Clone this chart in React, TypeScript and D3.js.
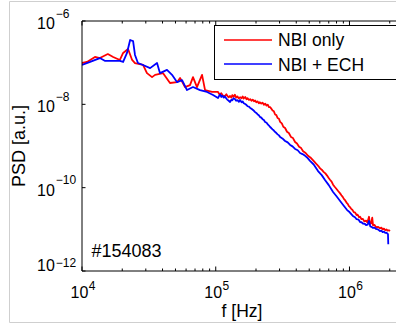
import React from 'react';
import * as d3 from 'd3';

// NBI only (red)
const redF = [1.00e4, 1.09e4, 1.25e4, 1.36e4, 1.56e4, 1.71e4, 1.92e4, 2.03e4, 2.21e4, 2.37e4, 2.49e4, 2.86e4, 3.06e4, 3.34e4, 3.52e4, 4.04e4, 4.55e4, 5.14e4, 5.41e4, 5.89e4, 6.42e4, 6.76e4, 7.24e4, 7.90e4, 8.32e4, 9.38e4, 1.04e5, 1.07e5, 1.10e5, 1.13e5, 1.17e5, 1.20e5, 1.22e5, 1.25e5, 1.28e5, 1.31e5, 1.33e5, 1.36e5, 1.39e5, 1.42e5, 1.45e5, 1.49e5, 1.52e5, 1.56e5, 1.59e5, 1.62e5, 1.66e5, 1.70e5, 1.73e5, 1.77e5, 1.81e5, 1.85e5, 1.89e5, 1.93e5, 1.97e5, 2.01e5, 2.05e5, 2.10e5, 2.14e5, 2.19e5, 2.24e5, 2.29e5, 2.34e5, 2.40e5, 2.45e5, 2.50e5, 2.55e5, 2.60e5, 2.66e5, 2.72e5, 2.78e5, 2.84e5, 2.90e5, 2.97e5, 3.03e5, 3.12e5, 3.20e5, 3.30e5, 3.41e5, 3.52e5, 3.65e5, 3.78e5, 3.92e5, 4.05e5, 4.20e5, 4.35e5, 4.50e5, 4.70e5, 4.90e5, 5.10e5, 5.35e5, 5.50e5, 5.70e5, 5.85e5, 6.03e5, 6.20e5, 6.40e5, 6.60e5, 6.80e5, 6.95e5, 7.15e5, 7.35e5, 7.54e5, 7.75e5, 8.00e5, 8.25e5, 8.51e5, 8.70e5, 8.90e5, 9.10e5, 9.27e5, 9.50e5, 9.70e5, 9.90e5, 1.01e6, 1.03e6, 1.05e6, 1.08e6, 1.10e6, 1.13e6, 1.15e6, 1.18e6, 1.20e6, 1.23e6, 1.26e6, 1.29e6, 1.33e6, 1.36e6, 1.40e6, 1.42e6, 1.45e6, 1.48e6, 1.50e6, 1.54e6, 1.58e6, 1.63e6, 1.69e6, 1.73e6, 1.77e6, 1.81e6, 1.85e6, 1.89e6, 1.93e6, 1.97e6, 2.01e6];
const redPSD = [9.8e-8, 1.04e-7, 1.37e-7, 1.29e-7, 1.61e-7, 1.37e-7, 1.16e-7, 1.71e-7, 2.13e-7, 1.16e-7, 9.8e-8, 8.8e-8, 5.6e-8, 4.5e-8, 5.1e-8, 5.6e-8, 3.25e-8, 3.4e-8, 4.3e-8, 2.6e-8, 2.9e-8, 4.5e-8, 2.6e-8, 5.1e-8, 2.2e-8, 1.98e-8, 1.98e-8, 1.70e-8, 1.85e-8, 1.62e-8, 1.58e-8, 1.75e-8, 1.60e-8, 1.48e-8, 1.58e-8, 1.45e-8, 1.66e-8, 1.52e-8, 1.70e-8, 1.45e-8, 1.55e-8, 1.38e-8, 1.48e-8, 1.40e-8, 1.55e-8, 1.38e-8, 1.50e-8, 1.32e-8, 1.40e-8, 1.28e-8, 1.33e-8, 1.22e-8, 1.30e-8, 1.18e-8, 1.24e-8, 1.12e-8, 1.18e-8, 1.06e-8, 1.12e-8, 1.04e-8, 1.10e-8, 9.8e-9, 1.04e-8, 9.3e-9, 9.8e-9, 8.6e-9, 8.6e-9, 7.9e-9, 7.1e-9, 6.8e-9, 5.7e-9, 5.5e-9, 4.7e-9, 4.5e-9, 3.8e-9, 3.5e-9, 2.9e-9, 2.7e-9, 2.2e-9, 2.05e-9, 1.65e-9, 1.55e-9, 1.25e-9, 1.15e-9, 9.6e-10, 8.9e-10, 7.5e-10, 6.8e-10, 5.8e-10, 5.3e-10, 4.5e-10, 4.1e-10, 3.6e-10, 3.3e-10, 2.9e-10, 2.7e-10, 2.4e-10, 2.2e-10, 1.95e-10, 1.75e-10, 1.55e-10, 1.40e-10, 1.18e-10, 1.05e-10, 9.3e-11, 8.2e-11, 7.3e-11, 6.6e-11, 6.0e-11, 5.3e-11, 5.0e-11, 4.4e-11, 4.1e-11, 3.6e-11, 3.4e-11, 3.1e-11, 2.95e-11, 2.55e-11, 2.55e-11, 2.2e-11, 2.25e-11, 1.95e-11, 2.0e-11, 1.75e-11, 1.78e-11, 1.55e-11, 1.62e-11, 1.45e-11, 2.0e-11, 1.35e-11, 1.38e-11, 1.9e-11, 1.25e-11, 1.28e-11, 1.12e-11, 1.15e-11, 1.06e-11, 1.1e-11, 1.0e-11, 1.04e-11, 9.6e-12, 9.9e-12, 9.3e-12, 9.5e-12, 9.1e-12];

// NBI + ECH (blue)
const blueF = [1.00e4, 1.15e4, 1.36e4, 1.49e4, 1.92e4, 2.03e4, 2.17e4, 2.29e4, 2.41e4, 2.49e4, 2.62e4, 2.86e4, 3.23e4, 3.64e4, 3.83e4, 4.32e4, 4.71e4, 5.14e4, 5.60e4, 6.10e4, 6.76e4, 7.63e4, 8.61e4, 9.55e4, 1.04e5, 1.06e5, 1.08e5, 1.10e5, 1.12e5, 1.15e5, 1.17e5, 1.20e5, 1.22e5, 1.25e5, 1.28e5, 1.31e5, 1.33e5, 1.36e5, 1.39e5, 1.42e5, 1.45e5, 1.49e5, 1.52e5, 1.56e5, 1.59e5, 1.62e5, 1.66e5, 1.70e5, 1.73e5, 1.77e5, 1.81e5, 1.85e5, 1.89e5, 1.93e5, 1.97e5, 2.01e5, 2.05e5, 2.10e5, 2.14e5, 2.19e5, 2.24e5, 2.29e5, 2.34e5, 2.40e5, 2.45e5, 2.50e5, 2.55e5, 2.60e5, 2.66e5, 2.72e5, 2.78e5, 2.84e5, 2.90e5, 2.97e5, 3.03e5, 3.15e5, 3.30e5, 3.45e5, 3.60e5, 3.75e5, 3.92e5, 4.10e5, 4.27e5, 4.45e5, 4.66e5, 4.85e5, 5.07e5, 5.40e5, 5.82e5, 6.20e5, 6.56e5, 7.00e5, 7.54e5, 8.00e5, 8.51e5, 9.00e5, 9.60e5, 1.00e6, 1.06e6, 1.10e6, 1.13e6, 1.17e6, 1.20e6, 1.23e6, 1.26e6, 1.30e6, 1.33e6, 1.37e6, 1.40e6, 1.43e6, 1.46e6, 1.50e6, 1.54e6, 1.58e6, 1.63e6, 1.69e6, 1.73e6, 1.77e6, 1.81e6, 1.85e6, 1.89e6, 1.94e6, 1.95e6];
const bluePSD = [8.8e-8, 1.04e-7, 1.29e-7, 1.10e-7, 1.10e-7, 1.04e-7, 1.71e-7, 3.5e-7, 3.3e-7, 1.53e-7, 9.8e-8, 8.8e-8, 7.4e-8, 9.8e-8, 5.6e-8, 6.7e-8, 5.1e-8, 3.4e-8, 3.8e-8, 2.2e-8, 2.6e-8, 2.2e-8, 1.98e-8, 1.67e-8, 1.42e-8, 1.60e-8, 1.72e-8, 1.50e-8, 1.62e-8, 1.45e-8, 1.55e-8, 1.38e-8, 1.30e-8, 1.22e-8, 1.14e-8, 1.30e-8, 1.25e-8, 1.40e-8, 1.34e-8, 1.22e-8, 1.26e-8, 1.15e-8, 1.27e-8, 1.12e-8, 1.18e-8, 1.06e-8, 1.02e-8, 9.6e-9, 9.0e-9, 8.8e-9, 8.2e-9, 7.8e-9, 7.4e-9, 7.0e-9, 6.5e-9, 6.2e-9, 5.8e-9, 5.5e-9, 5.0e-9, 4.8e-9, 4.4e-9, 4.2e-9, 3.77e-9, 3.6e-9, 3.3e-9, 3.1e-9, 2.86e-9, 2.7e-9, 2.5e-9, 2.35e-9, 2.17e-9, 2.05e-9, 1.9e-9, 1.8e-9, 1.64e-9, 1.52e-9, 1.32e-9, 1.22e-9, 1.06e-9, 9.8e-10, 8.5e-10, 7.9e-10, 6.8e-10, 6.4e-10, 5.8e-10, 5.2e-10, 4.4e-10, 3.6e-10, 2.5e-10, 2.0e-10, 1.53e-10, 1.15e-10, 7.9e-11, 6.2e-11, 4.8e-11, 3.8e-11, 2.9e-11, 2.6e-11, 2.1e-11, 1.95e-11, 1.75e-11, 1.70e-11, 1.50e-11, 1.48e-11, 1.38e-11, 1.36e-11, 1.27e-11, 1.30e-11, 1.6e-11, 1.18e-11, 1.15e-11, 1.08e-11, 1.10e-11, 1.02e-11, 1.0e-11, 9.1e-12, 9.3e-12, 8.6e-12, 8.8e-12, 8.2e-12, 8.3e-12, 7.7e-12, 4.4e-12];

const xMajorTicks = [1e4, 1e5, 1e6];
const xTickExps = ['4', '5', '6'];
const yTicks = [1e-12, 1e-10, 1e-8, 1e-6];
const yTickExps = ['\u221212', '\u221210', '\u22128', '\u22126'];
const seriesNames = ['NBI only', 'NBI + ECH'];
const seriesColors = ['#ff0000', '#0000ff'];
const shotLabel = '#154083';
const xLabel = 'f [Hz]';
const yLabel = 'PSD [a.u.]';

const FONT = '"Liberation Sans", Arial, Helvetica, sans-serif';

export default function App() {
  const W = 396, H = 332;
  const left = 82, top = 21, bottom = 271;
  const xr = 402;
  const x = d3.scaleLog().domain([1e4, 2.47e6]).range([left, xr]);
  const y = d3.scaleLog().domain([1e-12, 1e-6]).range([bottom, top]);

  const minorTicks: number[] = [];
  for (let e = 4; e <= 6; e++) {
    for (let k = 2; k <= 9; k++) {
      const v = k * Math.pow(10, e);
      if (v <= 2.47e6) minorTicks.push(v);
    }
  }

  const line = d3.line<[number, number]>().x(d => x(d[0])).y(d => y(d[1]));
  const redData = redF.map((f, i) => [f, redPSD[i]] as [number, number]);
  const blueData = blueF.map((f, i) => [f, bluePSD[i]] as [number, number]);

  return (
    <svg width={W} height={H} style={{ position: 'absolute', left: 0, top: 0, background: '#fff' }} fontFamily={FONT}>
      <rect x={0} y={0} width={W} height={H} fill="#fff" />
      <path d={`M${W + 2},1.5 H9.5 V322.5 H${W + 2}`} fill="none" stroke="#cfcfcf" strokeWidth={1} />

      <defs>
        <clipPath id="plotClip">
          <rect x={left} y={top} width={xr - left} height={bottom - top} />
        </clipPath>
      </defs>

      <g clipPath="url(#plotClip)" fill="none" strokeWidth={1.8} strokeLinejoin="round">
        <path d={line(redData) || ''} stroke={seriesColors[0]} />
        <path d={line(blueData) || ''} stroke={seriesColors[1]} />
      </g>

      <g stroke="#000" strokeWidth={1} fill="none">
        <line x1={left} y1={top} x2={W + 5} y2={top} />
        <line x1={left} y1={bottom} x2={W + 5} y2={bottom} />
        <line x1={left} y1={top} x2={left} y2={bottom} />
        {xMajorTicks.map(t => (
          <g key={'M' + t}>
            <line x1={x(t)} x2={x(t)} y1={bottom} y2={bottom - 4.5} />
            <line x1={x(t)} x2={x(t)} y1={top} y2={top + 4.5} />
          </g>
        ))}
        {minorTicks.map(t => (
          <g key={'m' + t}>
            <line x1={x(t)} x2={x(t)} y1={bottom} y2={bottom - 2.5} />
            <line x1={x(t)} x2={x(t)} y1={top} y2={top + 2.5} />
          </g>
        ))}
        {yTicks.map(t => (
          <line key={'y' + t} x1={left} x2={left + 3.5} y1={y(t)} y2={y(t)} />
        ))}
      </g>

      {xMajorTicks.map((t, i) => (
        <text key={'xl' + t} x={x(t) + 1} y={297.5} fontSize={16} textAnchor="middle" fill="#000">
          10<tspan fontSize={12} dy={-8} dx={0.5}>{xTickExps[i]}</tspan>
        </text>
      ))}

      {yTicks.map((t, i) => {
        const isBottom = i === 0;
        const base = isBottom ? y(t) - 0.5 : y(t) + 8;
        return (
          <text key={'yl' + t} x={37} y={base} fontSize={16} textAnchor="start" fill="#000">
            10<tspan fontSize={12} dy={isBottom ? -4 : -11.5} dx={1}>{yTickExps[i]}</tspan>
          </text>
        );
      })}

      <text x={242} y={317} fontSize={17.5} textAnchor="middle" fill="#000">{xLabel}</text>
      <text transform={`translate(25,146) rotate(-90)`} fontSize={18} textAnchor="middle" fill="#000">{yLabel}</text>

      <text x={91.5} y={256.5} fontSize={18} fill="#000">{shotLabel}</text>

      <rect x={214.5} y={25.5} width={W} height={54} fill="#fff" stroke="#000" strokeWidth={1} />
      {seriesNames.map((name, i) => (
        <g key={name}>
          <line x1={224} x2={272} y1={40 + i * 24} y2={40 + i * 24} stroke={seriesColors[i]} strokeWidth={1.5} />
          <text x={278} y={46 + i * 25} fontSize={17.5} fill="#000">{name}</text>
        </g>
      ))}
    </svg>
  );
}
